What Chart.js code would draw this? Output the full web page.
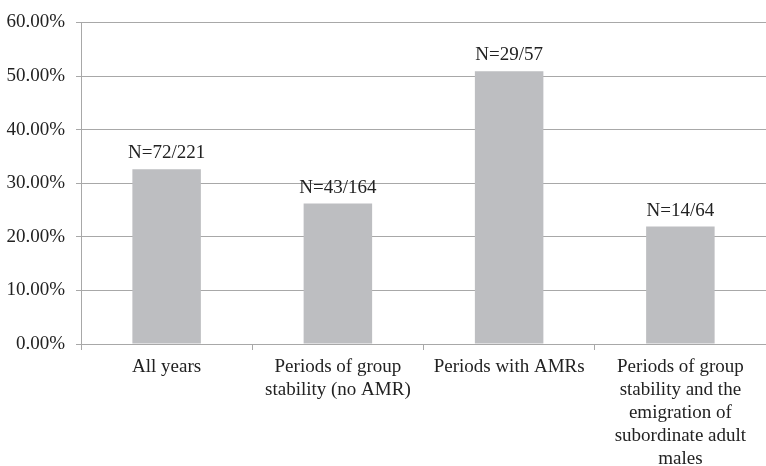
<!DOCTYPE html>
<html>
<head>
<meta charset="utf-8">
<script src="https://cdn.jsdelivr.net/npm/chart.js@4/dist/chart.umd.min.js"></script>
<style>
    html, body { margin: 0; padding: 0; background: #fff; }
    #wrap { width: 766px; height: 466px; }
</style>
</head>
<body>
<div id="wrap"><canvas id="myChart" width="766" height="466"></canvas></div>
<script>
var categories = [
    "All years",
    ["Periods of group", "stability (no AMR)"],
    "Periods with AMRs",
    ["Periods of group", "stability and the", "emigration of", "subordinate adult", "males"]
];
var percents = [32.6, 26.2, 50.9, 21.9];
var countLabels = ["N=72/221", "N=43/164", "N=29/57", "N=14/64"];
var yTicks = [0, 10, 20, 30, 40, 50, 60];

const lineGray = "#a8a8a8";
const textColor = "#222222";
const serif = "'Liberation Serif', 'DejaVu Serif', serif";

// writes the N=... text above every bar
const countPlugin = {
    id: "countLabels",
    afterDatasetsDraw(chart) {
        const ctx = chart.ctx;
        const meta = chart.getDatasetMeta(0);
        ctx.save();
        ctx.font = "19px " + serif;
        ctx.fillStyle = textColor;
        ctx.textAlign = "center";
        ctx.textBaseline = "alphabetic";
        meta.data.forEach((bar, i) => {
            ctx.fillText(countLabels[i], bar.x, bar.y - 11);
        });
        ctx.restore();
    }
};

function createChart() {
    const ctx = document.getElementById("myChart");
    new Chart(ctx, {
        type: "bar",
        data: {
            labels: categories,
            datasets: [{
                data: percents,
                backgroundColor: "#bdbec1",
                borderWidth: 0,
                categoryPercentage: 1.0,
                barPercentage: 0.4
            }]
        },
        plugins: [countPlugin],
        options: {
            responsive: false,
            animation: false,
            layout: { padding: { top: 20, right: 0, left: 0, bottom: 0 } },
            plugins: {
                legend: { display: false },
                tooltip: { enabled: false }
            },
            scales: {
                x: {
                    grid: {
                        offset: true,
                        drawOnChartArea: false,
                        drawTicks: true,
                        tickLength: 6,
                        color: lineGray
                    },
                    border: { color: lineGray, width: 1 },
                    ticks: {
                        color: textColor,
                        font: { family: serif, size: 19, lineHeight: 1.2 },
                        maxRotation: 0,
                        minRotation: 0,
                        autoSkip: false,
                        padding: 6
                    },
                    afterFit: (s) => { s.height = 122; }
                },
                y: {
                    min: 0,
                    max: 60,
                    afterBuildTicks: (s) => { s.ticks = yTicks.map(v => ({ value: v })); },
                    grid: {
                        color: lineGray,
                        tickLength: 5
                    },
                    border: { color: lineGray, width: 1 },
                    ticks: {
                        color: textColor,
                        font: { family: serif, size: 19 },
                        padding: 11,
                        callback: (v) => v.toFixed(2) + "%"
                    },
                    afterFit: (s) => { s.width = 81; }
                }
            }
        }
    });
}

createChart();
</script>
</body>
</html>
